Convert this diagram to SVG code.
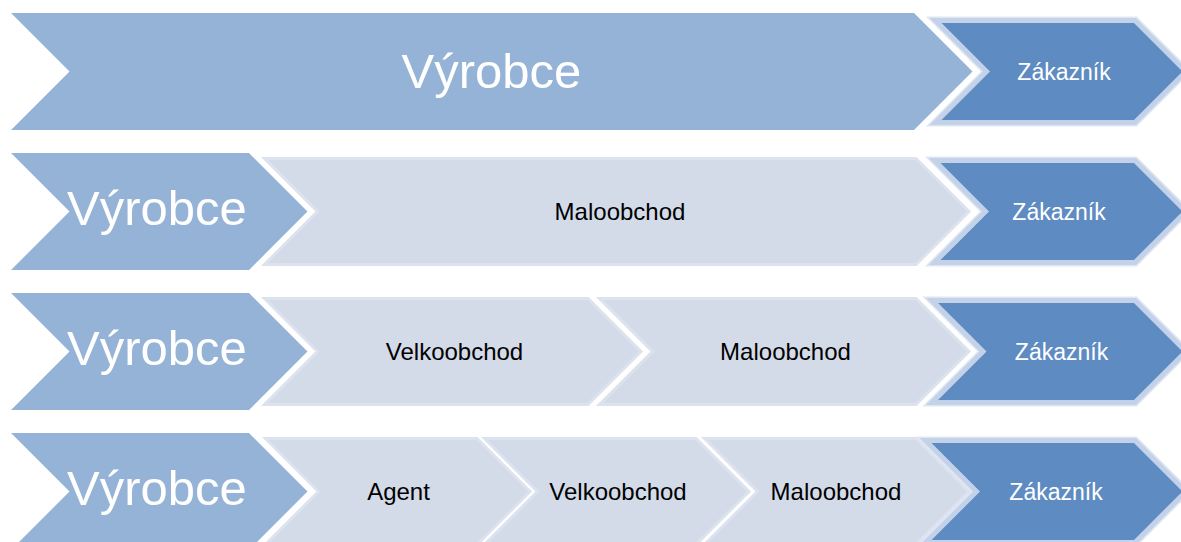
<svg xmlns="http://www.w3.org/2000/svg" width="1181" height="542" viewBox="0 0 1181 542">
  <style>
    .prod { fill: #95b3d7; }
    .mid { fill: #d3dbe9; stroke: #dce2ee; stroke-width: 3; stroke-linejoin: miter; }
    .cust-halo { fill: none; stroke: #dfe7f3; stroke-width: 8; stroke-linejoin: miter; }
    .cust { fill: #5e8bc2; stroke: #c3d2e9; stroke-width: 5; stroke-linejoin: miter; }
    .big { font-family: "Liberation Sans", Arial, sans-serif; font-size: 49px; fill: #ffffff; text-anchor: middle; }
    .small { font-family: "Liberation Sans", Arial, sans-serif; font-size: 24px; fill: #000000; text-anchor: middle; }
    .ctext { font-family: "Liberation Sans", Arial, sans-serif; font-size: 23px; fill: #ffffff; text-anchor: middle; }
  </style>
  <rect width="1181" height="542" fill="#ffffff"/>

  <!-- Row 1 -->
  <g id="row1-vyrobce">
    <polygon class="prod" points="11,13 914,13 972.5,71.5 914,130 11,130 69.5,71.5"/>
    <text class="big" x="491.5" y="88">Výrobce</text>
  </g>
  <g id="row1-zakaznik">
    <polygon class="cust-halo" points="935.5,20.5 1135,20.5 1186,71.5 1135,122.5 935.5,122.5 986.5,71.5"/>
    <polygon class="cust" points="935.5,20.5 1135,20.5 1186,71.5 1135,122.5 935.5,122.5 986.5,71.5"/>
    <text class="ctext" x="1064" y="80">Zákazník</text>
  </g>

  <!-- Row 2 -->
  <g id="row2-vyrobce">
    <polygon class="prod" points="11,153 249,153 307.5,211.5 249,270 11,270 69.5,211.5"/>
    <text class="big" x="157" y="225">Výrobce</text>
  </g>
  <g id="row2-maloobchod">
    <polygon class="mid" points="264.5,158.5 916,158.5 969,211.5 916,264.5 264.5,264.5 317.5,211.5"/>
    <text class="small" x="620" y="220">Maloobchod</text>
  </g>
  <g id="row2-zakaznik">
    <polygon class="cust-halo" points="934.5,160.5 1135,160.5 1186,211.5 1135,262.5 934.5,262.5 985.5,211.5"/>
    <polygon class="cust" points="934.5,160.5 1135,160.5 1186,211.5 1135,262.5 934.5,262.5 985.5,211.5"/>
    <text class="ctext" x="1059" y="220">Zákazník</text>
  </g>

  <!-- Row 3 -->
  <g id="row3-vyrobce">
    <polygon class="prod" points="11,293 249,293 307.5,351.5 249,410 11,410 69.5,351.5"/>
    <text class="big" x="157" y="365">Výrobce</text>
  </g>
  <g id="row3-velkoobchod">
    <polygon class="mid" points="264.5,298.5 588,298.5 641,351.5 588,404.5 264.5,404.5 317.5,351.5"/>
    <text class="small" x="454.5" y="360">Velkoobchod</text>
  </g>
  <g id="row3-maloobchod">
    <polygon class="mid" points="599.5,298.5 916,298.5 969,351.5 916,404.5 599.5,404.5 652.5,351.5"/>
    <text class="small" x="785.5" y="360">Maloobchod</text>
  </g>
  <g id="row3-zakaznik">
    <polygon class="cust-halo" points="932,300.5 1135,300.5 1186,351.5 1135,402.5 932,402.5 983,351.5"/>
    <polygon class="cust" points="932,300.5 1135,300.5 1186,351.5 1135,402.5 932,402.5 983,351.5"/>
    <text class="ctext" x="1061.5" y="360">Zákazník</text>
  </g>

  <!-- Row 4 -->
  <g id="row4-vyrobce">
    <polygon class="prod" points="11,433 249,433 307.5,491.5 249,550 11,550 69.5,491.5"/>
    <text class="big" x="157" y="505">Výrobce</text>
  </g>
  <g id="row4-agent">
    <polygon class="mid" points="265.5,438.5 477,438.5 530,491.5 477,544.5 265.5,544.5 318.5,491.5"/>
    <text class="small" x="398.5" y="500">Agent</text>
  </g>
  <g id="row4-velkoobchod">
    <polygon class="mid" points="484.5,438.5 696,438.5 749,491.5 696,544.5 484.5,544.5 537.5,491.5"/>
    <text class="small" x="618" y="500">Velkoobchod</text>
  </g>
  <g id="row4-maloobchod">
    <polygon class="mid" points="704.5,438.5 916,438.5 969,491.5 916,544.5 704.5,544.5 757.5,491.5"/>
    <text class="small" x="836" y="500">Maloobchod</text>
  </g>
  <g id="row4-zakaznik">
    <polygon class="cust-halo" points="925.5,440.5 1135,440.5 1186,491.5 1135,542.5 925.5,542.5 976.5,491.5"/>
    <polygon class="cust" points="925.5,440.5 1135,440.5 1186,491.5 1135,542.5 925.5,542.5 976.5,491.5"/>
    <text class="ctext" x="1056" y="500">Zákazník</text>
  </g>

  <g id="connectors"/>
</svg>
